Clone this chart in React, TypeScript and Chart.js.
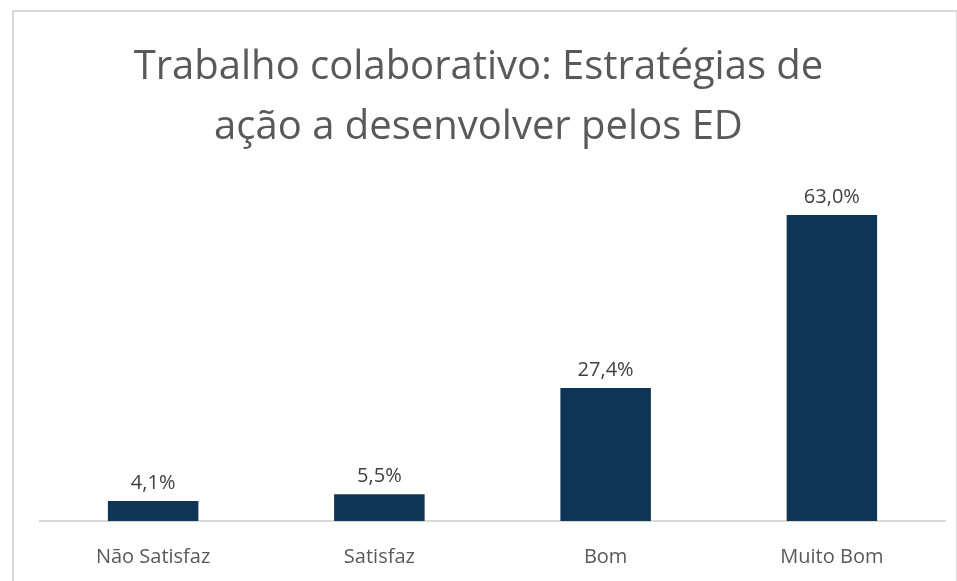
import React, { useEffect, useRef } from "react";
import { Chart, registerables } from "chart.js";

Chart.register(...registerables);

const categories = ["Não Satisfaz", "Satisfaz", "Bom", "Muito Bom"];
const values = [4.1, 5.5, 27.4, 63.0];
const titleLines = ["Trabalho colaborativo: Estratégias de", "ação a desenvolver pelos ED"];

const FONT = "'Open Sans', 'Liberation Sans', sans-serif";

const dataLabelPlugin = {
  id: "dataLabels",
  afterDatasetsDraw(chart: any) {
    const ctx = chart.ctx;
    const meta = chart.getDatasetMeta(0);
    ctx.save();
    ctx.font = `20px ${FONT}`;
    ctx.fillStyle = "#404040";
    ctx.textAlign = "center";
    ctx.textBaseline = "bottom";
    meta.data.forEach((bar: any, i: number) => {
      const txt = values[i].toFixed(1).replace(".", ",") + "%";
      ctx.fillText(txt, bar.x, bar.y - 8);
    });
    ctx.restore();
  },
};

const titlePlugin = {
  id: "centeredTitle",
  afterDraw(chart: any) {
    const ctx = chart.ctx;
    ctx.save();
    ctx.font = `40px ${FONT}`;
    ctx.fillStyle = "#595959";
    ctx.textAlign = "center";
    ctx.textBaseline = "middle";
    titleLines.forEach((line, i) => {
      ctx.fillText(line, chart.width / 2, 68 + i * 60);
    });
    ctx.restore();
  },
};

export default function App() {
  const ref = useRef<HTMLCanvasElement | null>(null);
  useEffect(() => {
    if (!ref.current) return;
    const chart = new Chart(ref.current, {
      type: "bar",
      data: {
        labels: categories,
        datasets: [
          {
            data: values,
            backgroundColor: "#0E3556",
            barPercentage: 0.8,
            categoryPercentage: 0.5,
          },
        ],
      },
      options: {
        responsive: false,
        animation: false,
        layout: { padding: { left: 40, right: 12, top: 181, bottom: 0 } },
        plugins: {
          legend: { display: false },
          tooltip: { enabled: false },
          title: { display: false },
        },
        scales: {
          x: {
            grid: { display: false },
            border: { display: true, color: "#d9d9d9", width: 2 },
            ticks: { color: "#595959", font: { family: FONT, size: 20 }, padding: 16 },
            afterFit(scale: any) {
              scale.height = 60;
            },
          },
          y: {
            display: false,
            min: 0,
            max: 70,
          },
        },
      },
      plugins: [dataLabelPlugin, titlePlugin],
    });
    return () => chart.destroy();
  }, []);
  return (
    <div style={{ position: "fixed", left: 0, top: 0, width: 957, height: 581, background: "#fff" }}>
      <div
        style={{
          position: "absolute",
          left: 12,
          top: 10,
          width: 946,
          height: 580,
          border: "2px solid #d9d9d9",
          boxSizing: "border-box",
        }}
      />
      <canvas ref={ref} width={957} height={581} style={{ position: "absolute", left: 0, top: 0 }} />
    </div>
  );
}
